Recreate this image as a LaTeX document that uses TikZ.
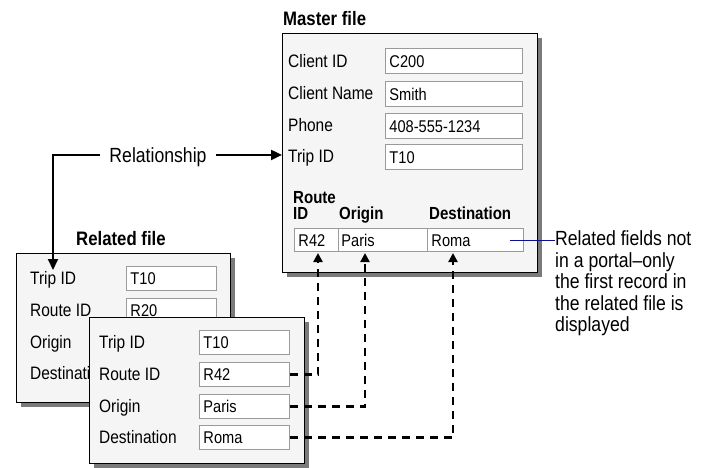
\documentclass[tikz,border=0pt]{standalone}
\usepackage{fontspec}
\setmainfont{Liberation Sans}[FakeStretch=0.86]
\usetikzlibrary{arrows.meta,shadows,calc}
\definecolor{panelbg}{HTML}{F5F5F5}
\definecolor{fieldline}{HTML}{9A9A9A}
\definecolor{shadowc}{HTML}{7A7A7A}
\begin{document}
\begin{tikzpicture}[x=1pt,y=-1pt,
  panel/.style={draw=black, line width=1.3pt, fill=panelbg, anchor=north west, inner sep=0pt,
    drop shadow={shadow xshift=4pt, shadow yshift=-4pt, fill=shadowc, opacity=1}},
  fieldbase/.style={draw=fieldline, line width=0.9pt, fill=white, anchor=north west,
    inner xsep=4pt, inner ysep=0pt, align=left, font=\fontsize{17}{20}\selectfont,
    text height=12.2pt, text depth=0pt},
  fieldA/.style={fieldbase, text width=129pt, minimum height=25pt},
  fieldB/.style={fieldbase, text width=82pt, minimum height=24pt},
  lbl/.style={anchor=base west, inner sep=0pt, font=\fontsize{18}{21}\selectfont},
  hdr/.style={anchor=base west, inner sep=0pt, font=\fontsize{17.5}{20}\selectfont\bfseries},
  ttl/.style={anchor=base west, inner sep=0pt, font=\fontsize{19.5}{22}\selectfont\bfseries},
  relline/.style={line width=2pt, -{Triangle[length=11pt,width=10pt]}},
  dashconn/.style={line width=2.4pt, dash pattern=on 8pt off 6pt, -{Triangle[length=9pt,width=9pt]}},
]
\useasboundingbox (0,0) rectangle (710,467);

% ---------------- Master file ----------------
\node[ttl] (mtitle) at (283,25) {Master file};
\node[panel, minimum width=255pt, minimum height=239pt] (master) at (282,33) {};
\node[lbl] (mlab1) at (288,67) {Client ID};
\node[lbl] (mlab2) at (288,99.5) {Client Name};
\node[lbl] (mlab3) at (288,131.5) {Phone};
\node[lbl] (mlab4) at (288,162.5) {Trip ID};
\node[fieldA] (mf1) at (385,48) {C200};
\node[fieldA] (mf2) at (385,81) {Smith};
\node[fieldA] (mf3) at (385,113) {408-555-1234};
\node[fieldA] (mf4) at (385,144) {T10};

\node[hdr] (h1) at (293,203.3) {Route};
\node[hdr] (h2) at (293,219.3) {ID};
\node[hdr] (h3) at (339,219.3) {Origin};
\node[hdr] (h4) at (429,219.3) {Destination};

\node[fieldbase, text width=36pt, minimum height=23pt] (p1) at (294,228) {R42};
\node[fieldbase, minimum height=23pt, inner xsep=3pt, text width=83pt] (p2) at (338,228) {Paris};
\node[fieldbase, text width=88pt, minimum height=23pt] (p3) at (427,228) {Roma};

\coordinate (a1) at (318,253);
\coordinate (a2) at (365,253);
\coordinate (a3) at (453,253);

% note
\node[anchor=north west, inner sep=0pt, align=left,
      font=\fontsize{20.5}{21.5}\selectfont] (note) at (555,230.5)
  {Related fields not\\in a portal--only\\the first record in\\the related file is\\displayed};
\coordinate (bl) at (510,240);
\draw[blue, line width=0.8pt] (bl) -- (bl -| note.west);

% ---------------- Related file (back) ----------------
\node[ttl] (rtitle) at (76,245) {Related file};
\node[panel, minimum width=214pt, minimum height=149pt] (rel) at (16,253) {};
\node[lbl] (rlab1) at (30,284.5) {Trip ID};
\node[lbl] (rlab2) at (30,316.5) {Route ID};
\node[lbl] (rlab3) at (30,348.5) {Origin};
\node[lbl] (rlab4) at (30,379.5) {Destination};
\node[fieldB] (rf1) at (126,266) {T10};
\node[fieldB] (rf2) at (126,298) {R20};

% ---------------- Related file (front record) ----------------
\node[panel, minimum width=215pt, minimum height=146pt] (front) at (89,317) {};
\node[lbl] (flab1) at (99,348.5) {Trip ID};
\node[lbl] (flab2) at (99,380.5) {Route ID};
\node[lbl] (flab3) at (99,412.5) {Origin};
\node[lbl] (flab4) at (99,443.5) {Destination};
\node[fieldB] (ff1) at (199,330) {T10};
\node[fieldB] (ff2) at (199,362) {R42};
\node[fieldB] (ff3) at (199,394) {Paris};
\node[fieldB] (ff4) at (199,425) {Roma};

% ---------------- dashed connectors ----------------
\draw[dashconn] (ff2.east) -| (a1);
\draw[dashconn] (ff3.east) -| (a2);
\draw[dashconn] (ff4.east) -| (a3);

% ---------------- Relationship ----------------
\node[anchor=base, inner xsep=9pt, inner ysep=0pt, text height=14.7pt, text depth=0pt,
      font=\fontsize{20.5}{24}\selectfont] (reltext) at (158,162.3) {Relationship};
\coordinate (relend) at (53,270);
\draw[relline] (reltext.west) -| (relend);
\draw[relline] (reltext.east) -- (reltext.east -| master.west);
\end{tikzpicture}
\end{document}
